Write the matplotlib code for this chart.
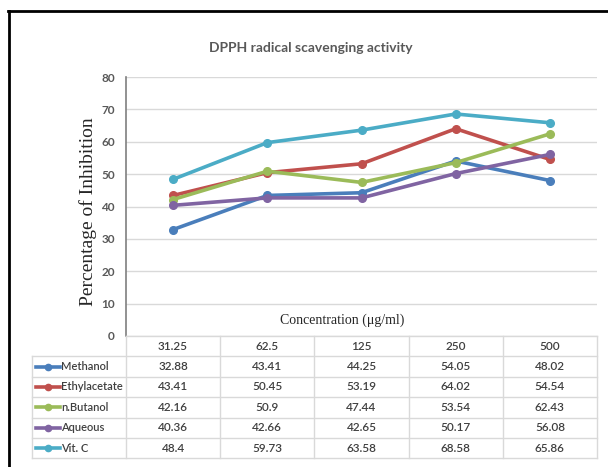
import matplotlib
matplotlib.use("Agg")
import matplotlib.pyplot as plt
from matplotlib.lines import Line2D
import numpy as np

concentrations = ["31.25", "62.5", "125", "250", "500"]
series_names = ["Methanol", "Ethylacetate", "n.Butanol", "Aqueous", "Vit. C"]
methanol = [32.88, 43.41, 44.25, 54.05, 48.02]
ethylacetate = [43.41, 50.45, 53.19, 64.02, 54.54]
butanol = [42.16, 50.9, 47.44, 53.54, 62.43]
aqueous = [40.36, 42.66, 42.65, 50.17, 56.08]
vitc = [48.4, 59.73, 63.58, 68.58, 65.86]
series_values = [methanol, ethylacetate, butanol, aqueous, vitc]
colors = ["#4a7ebb", "#c0504d", "#9bbb59", "#8064a2", "#4bacc6"]

sans = ["Lato", "DejaVu Sans"]

W, H = 608, 467
fig = plt.figure(figsize=(W / 100, H / 100), dpi=100)

def fx(px):
    return px / W

def fy(py):
    return 1 - py / H

# plot area in pixel coords
L, R, T, B = 126, 597, 77, 336
ax = fig.add_axes([fx(L), fy(B), fx(R) - fx(L), fy(T) - fy(B)])
x = np.arange(len(concentrations))
for vals, col in zip(series_values, colors):
    ax.plot(x, vals, color=col, lw=2.6, marker="o", ms=5.5, zorder=3)

ax.set_xlim(-0.5, len(concentrations) - 0.5)
ax.set_ylim(0, 80)
ax.set_yticks(range(0, 81, 10))
ax.set_xticks([])
ax.grid(axis="y", color="#d9d9d9", lw=1)
ax.set_axisbelow(True)
for s in ["top", "right", "bottom"]:
    ax.spines[s].set_visible(False)
ax.spines["left"].set_color("#7f7f7f")
ax.spines["left"].set_linewidth(1.2)
ax.tick_params(axis="y", length=0, pad=8, labelsize=8.5, labelcolor="#595959")
for lab in ax.get_yticklabels():
    lab.set_fontfamily(sans)
    lab.set_fontweight("bold")

ax.text(0.46, 0.06, "Concentration (μg/ml)", transform=ax.transAxes, ha="center",
        va="center", fontsize=10, family="Liberation Serif", color="#262626")

fig.text(fx(311), fy(48), "DPPH radical scavenging activity", ha="center", va="center",
         fontsize=10, fontweight="bold", color="#595959", family=sans)
fig.text(fx(88), fy(212), "Percentage of Inhibition", rotation=90, ha="center", va="center",
         fontsize=14, family="Liberation Serif", color="#262626")

# data table under the plot
grid_col = "#d9d9d9"
tl = 32
row_h = 20.4
col_w = (R - L) / len(concentrations)
rows_top = B
n_rows = len(series_names) + 1
bottom = rows_top + n_rows * row_h

def hline(y, x0, x1):
    fig.add_artist(Line2D([fx(x0), fx(x1)], [fy(y), fy(y)], color=grid_col, lw=1))

def vline(xp, y0, y1):
    fig.add_artist(Line2D([fx(xp), fx(xp)], [fy(y0), fy(y1)], color=grid_col, lw=1))

hline(rows_top, L, R)
for i in range(1, n_rows + 1):
    hline(rows_top + i * row_h, tl, R)
vline(tl, rows_top + row_h, bottom)
for j in range(len(concentrations) + 1):
    vline(L + j * col_w, rows_top, bottom)

tkw = dict(ha="center", va="center", fontsize=8.5, color="#404040", family=sans,
           fontweight="semibold")
for j, c in enumerate(concentrations):
    fig.text(fx(L + (j + 0.5) * col_w), fy(rows_top + 0.5 * row_h), c, **tkw)
for i, (name, vals, col) in enumerate(zip(series_names, series_values, colors)):
    yc = rows_top + (i + 1.5) * row_h
    fig.add_artist(Line2D([fx(36), fx(60)], [fy(yc), fy(yc)], color=col, lw=2.6))
    fig.add_artist(Line2D([fx(48)], [fy(yc)], color=col, marker="o", ms=4.5))
    fig.text(fx(61), fy(yc), name, ha="left", va="center", fontsize=8, color="#404040",
             family=sans, fontweight="semibold")
    for j, v in enumerate(vals):
        fig.text(fx(L + (j + 0.5) * col_w), fy(yc), f"{v:g}", **tkw)

# outer black frame
fig.add_artist(Line2D([fx(8), fx(608)], [fy(11), fy(11)], color="black", lw=2))
fig.add_artist(Line2D([fx(9), fx(9)], [fy(11), fy(467)], color="black", lw=2))

fig.savefig("out.png", dpi=100)
